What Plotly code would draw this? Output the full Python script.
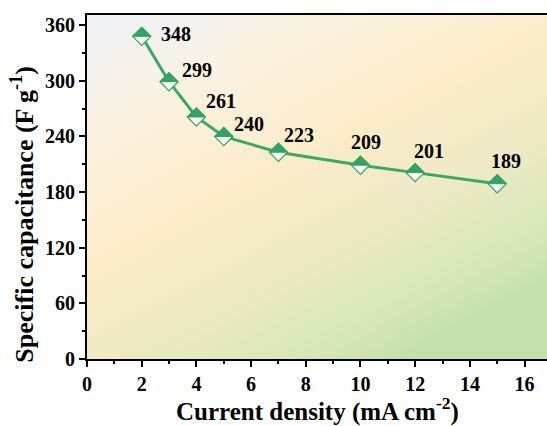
import base64
import plotly.graph_objects as go

# Rate capability data
current_density = [2, 3, 4, 5, 7, 10, 12, 15]          # mA cm^-2
capacitance = [348, 299, 261, 240, 223, 209, 201, 189]  # F g^-1
value_labels = ["348", "299", "261", "240", "223", "209", "201", "189"]
x_ticks = [0, 2, 4, 6, 8, 10, 12, 14, 16]
y_ticks = [0, 60, 120, 180, 240, 300, 360]

# pixel offsets of the value labels relative to their points
label_dx = [34, 28, 25, 25, 21, 6, 14, 9]
label_dy = [2, 12, 16, 12, 17, 23, 22, 23]

GREEN = "#33a262"
LINE_GREEN = "#3aa866"
FONT = "Liberation Serif"

# diagonal pastel gradient behind the plot area
svg = (
    "<svg xmlns='http://www.w3.org/2000/svg' width='460' height='344' preserveAspectRatio='none'>"
    "<defs><linearGradient id='g' x1='0' y1='0' x2='0.7' y2='1'>"
    "<stop offset='0' stop-color='#eef2f9'/>"
    "<stop offset='0.25' stop-color='#fbf2e0'/>"
    "<stop offset='0.48' stop-color='#fcecca'/>"
    "<stop offset='0.68' stop-color='#f0eac6'/>"
    "<stop offset='0.88' stop-color='#d8e7bb'/>"
    "<stop offset='1' stop-color='#c4dfb0'/>"
    "</linearGradient></defs>"
    "<rect width='100%' height='100%' fill='url(#g)'/></svg>"
)
bg_src = "data:image/svg+xml;base64," + base64.b64encode(svg.encode()).decode()

fig = go.Figure()
fig.add_trace(go.Scatter(
    x=current_density, y=capacitance, mode="lines+markers",
    line=dict(color=LINE_GREEN, width=3),
    marker=dict(symbol="diamond", size=14, color="white",
                line=dict(color=GREEN, width=1.2)),
    hoverinfo="skip", showlegend=False,
))

# upper half of each diamond filled green
shapes = []
for xv, yv in zip(current_density, capacitance):
    shapes.append(dict(
        type="path", xref="x", yref="y",
        xsizemode="pixel", ysizemode="pixel", xanchor=xv, yanchor=yv,
        path="M -9.1,0 L 0,9.1 L 9.1,0 Z",
        fillcolor=GREEN, line=dict(color=GREEN, width=1), layer="above",
    ))

annotations = []
for xv, yv, txt, dx, dy in zip(current_density, capacitance, value_labels, label_dx, label_dy):
    annotations.append(dict(
        x=xv, y=yv, xref="x", yref="y", text=f"<b>{txt}</b>", showarrow=False,
        xshift=dx, yshift=dy, font=dict(family=FONT, size=20, color="black"),
    ))

annotations.append(dict(
    x=0.5, y=-0.148, xref="paper", yref="paper", showarrow=False,
    text="<b>Current density (mA cm<sup>-2</sup>)</b>",
    font=dict(family=FONT, size=25, color="black"), yanchor="middle",
))
annotations.append(dict(
    x=-0.141, y=0.42, xref="paper", yref="paper", showarrow=False, textangle=-90,
    text="<b>Specific capacitance (F g<sup>-1</sup>)</b>",
    font=dict(family=FONT, size=26, color="black"), xanchor="center", yanchor="middle",
))

axis_common = dict(
    showgrid=False, zeroline=False, showline=True, linecolor="black", linewidth=2,
    ticks="outside", ticklen=6, tickwidth=2, tickcolor="black",
    tickfont=dict(family=FONT, size=20, color="black", weight="bold"),
)

fig.update_layout(
    width=547, height=426,
    margin=dict(l=87, r=0, t=15, b=67),
    paper_bgcolor="white", plot_bgcolor="rgba(0,0,0,0)",
    shapes=shapes, annotations=annotations,
    images=[dict(source=bg_src, xref="paper", yref="paper", x=0, y=1,
                 sizex=1, sizey=1, xanchor="left", yanchor="top",
                 sizing="stretch", layer="below")],
    xaxis=dict(range=[0, 16.82], tickvals=x_ticks, mirror=True,
               minor=dict(dtick=1, ticks="outside", ticklen=3, tickwidth=2, tickcolor="black"),
               **axis_common),
    yaxis=dict(range=[0, 371], tickvals=y_ticks,
               minor=dict(dtick=30, ticks="outside", ticklen=3, tickwidth=2, tickcolor="black"),
               **axis_common),
)

fig.write_html("out.html")
